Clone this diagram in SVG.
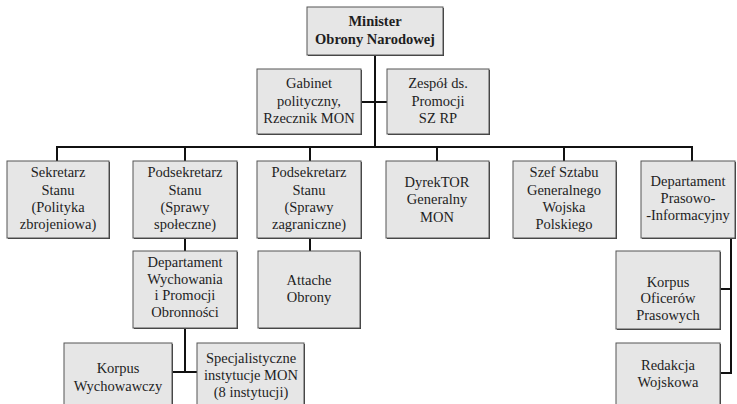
<svg xmlns="http://www.w3.org/2000/svg" width="737" height="404" viewBox="0 0 737 404">
<style>
  .box rect.s { fill: #3a3a3a; }
  .box rect.b { fill: #e6e6e6; stroke: #555; stroke-width: 1; }
  .box text { font-family: "Liberation Serif", "Times New Roman", serif; font-size: 14.5px; fill: #1e1e1e; text-anchor: middle; }
  .box text.bold { font-weight: bold; }
  .conn line { stroke: #111; stroke-width: 2; fill: none; }
</style>
<rect width="737" height="404" fill="#ffffff"/>
<g class="conn" id="connectors">
  <line x1="375" y1="55" x2="375" y2="148"/>
  <line x1="361" y1="102" x2="387" y2="102"/>
  <line x1="56" y1="147" x2="693" y2="147"/>
  <line x1="57" y1="147" x2="57" y2="161"/>
  <line x1="185" y1="147" x2="185" y2="161"/>
  <line x1="310" y1="147" x2="310" y2="161"/>
  <line x1="437" y1="147" x2="437" y2="161"/>
  <line x1="564" y1="147" x2="564" y2="161"/>
  <line x1="692" y1="147" x2="692" y2="161"/>
  <line x1="185" y1="238" x2="185" y2="251"/>
  <line x1="310" y1="238" x2="310" y2="251"/>
  <line x1="185" y1="328" x2="185" y2="373"/>
  <line x1="172" y1="372" x2="197" y2="372"/>
  <line x1="731" y1="238" x2="731" y2="374"/>
  <line x1="720" y1="289" x2="732" y2="289"/>
  <line x1="720" y1="373" x2="732" y2="373"/>
</g>
<g class="box" id="minister">
  <rect class="s" x="308" y="8" width="136" height="48"/>
  <rect class="b" x="307" y="7" width="136" height="48"/>
  <text class="bold" x="375" y="26">Minister</text>
  <text class="bold" x="375" y="44">Obrony Narodowej</text>
</g>
<g class="box" id="gabinet">
  <rect class="s" x="258" y="70" width="104" height="65"/>
  <rect class="b" x="257" y="69" width="104" height="65"/>
  <text x="309" y="88">Gabinet</text>
  <text x="309" y="106">polityczny,</text>
  <text x="309" y="123">Rzecznik MON</text>
</g>
<g class="box" id="zespol">
  <rect class="s" x="388" y="70" width="102" height="65"/>
  <rect class="b" x="387" y="69" width="102" height="65"/>
  <text x="438" y="88">Zespół ds.</text>
  <text x="438" y="106">Promocji</text>
  <text x="438" y="123">SZ RP</text>
</g>
<g class="box" id="sekretarz">
  <rect class="s" x="8" y="162" width="102" height="77"/>
  <rect class="b" x="7" y="161" width="102" height="77"/>
  <text x="58" y="177">Sekretarz</text>
  <text x="58" y="195">Stanu</text>
  <text x="58" y="212">(Polityka</text>
  <text x="58" y="229">zbrojeniowa)</text>
</g>
<g class="box" id="podsekretarz-spoleczne">
  <rect class="s" x="134" y="162" width="104" height="77"/>
  <rect class="b" x="133" y="161" width="104" height="77"/>
  <text x="185" y="177">Podsekretarz</text>
  <text x="185" y="195">Stanu</text>
  <text x="185" y="212">(Sprawy</text>
  <text x="185" y="229">społeczne)</text>
</g>
<g class="box" id="podsekretarz-zagraniczne">
  <rect class="s" x="258" y="162" width="104" height="77"/>
  <rect class="b" x="257" y="161" width="104" height="77"/>
  <text x="309" y="177">Podsekretarz</text>
  <text x="309" y="195">Stanu</text>
  <text x="309" y="212">(Sprawy</text>
  <text x="309" y="229">zagraniczne)</text>
</g>
<g class="box" id="dyrektor">
  <rect class="s" x="387" y="162" width="103" height="77"/>
  <rect class="b" x="386" y="161" width="103" height="77"/>
  <text x="437" y="187">DyrekTOR</text>
  <text x="437" y="204">Generalny</text>
  <text x="437" y="222">MON</text>
</g>
<g class="box" id="szef-sztabu">
  <rect class="s" x="514" y="162" width="103" height="77"/>
  <rect class="b" x="513" y="161" width="103" height="77"/>
  <text x="564" y="177">Szef Sztabu</text>
  <text x="564" y="195">Generalnego</text>
  <text x="564" y="212">Wojska</text>
  <text x="564" y="229">Polskiego</text>
</g>
<g class="box" id="departament-prasowy">
  <rect class="s" x="642" y="162" width="94" height="77"/>
  <rect class="b" x="641" y="161" width="94" height="77"/>
  <text x="688" y="186">Departament</text>
  <text x="688" y="203">Prasowo-</text>
  <text x="688" y="220">-Informacyjny</text>
</g>
<g class="box" id="departament-wychowania">
  <rect class="s" x="134" y="252" width="104" height="77"/>
  <rect class="b" x="133" y="251" width="104" height="77"/>
  <text x="185" y="267">Departament</text>
  <text x="185" y="284">Wychowania</text>
  <text x="185" y="300">i Promocji</text>
  <text x="185" y="317">Obronności</text>
</g>
<g class="box" id="attache">
  <rect class="s" x="259" y="252" width="102" height="77"/>
  <rect class="b" x="258" y="251" width="102" height="77"/>
  <text x="309" y="285">Attache</text>
  <text x="309" y="302">Obrony</text>
</g>
<g class="box" id="korpus-wychowawczy">
  <rect class="s" x="65" y="344" width="108" height="70"/>
  <rect class="b" x="64" y="343" width="108" height="70"/>
  <text x="118" y="373">Korpus</text>
  <text x="118" y="391">Wychowawczy</text>
</g>
<g class="box" id="specjalistyczne">
  <rect class="s" x="198" y="344" width="107" height="70"/>
  <rect class="b" x="197" y="343" width="107" height="70"/>
  <text x="251" y="363">Specjalistyczne</text>
  <text x="251" y="380">instytucje MON</text>
  <text x="251" y="397">(8 instytucji)</text>
</g>
<g class="box" id="korpus-oficerow">
  <rect class="s" x="617" y="252" width="104" height="78"/>
  <rect class="b" x="616" y="251" width="104" height="78"/>
  <text x="668" y="287">Korpus</text>
  <text x="668" y="303">Oficerów</text>
  <text x="668" y="320">Prasowych</text>
</g>
<g class="box" id="redakcja">
  <rect class="s" x="617" y="344" width="104" height="70"/>
  <rect class="b" x="616" y="343" width="104" height="70"/>
  <text x="668" y="370">Redakcja</text>
  <text x="668" y="387">Wojskowa</text>
</g>
</svg>
